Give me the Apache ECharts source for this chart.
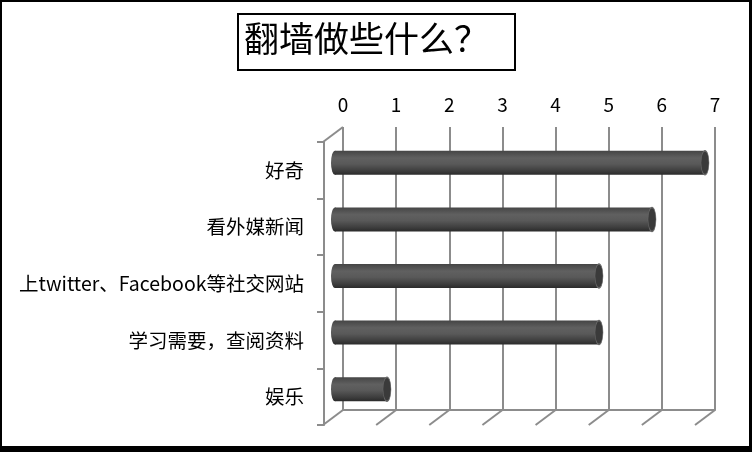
<!DOCTYPE html>
<html>
<head>
<meta charset="utf-8">
<script src="https://cdn.jsdelivr.net/npm/echarts@6/dist/echarts.min.js"></script>
<style>
html,body{margin:0;padding:0;background:#fff;}
#chart{width:752px;height:452px;}
</style>
</head>
<body>
<div id="chart"></div>
<script>
var titleText = '翻墙做些什么？';
var categories = ['好奇', '看外媒新闻', '上twitter、Facebook等社交网站', '学习需要，查阅资料', '娱乐'];
var values = [7, 6, 5, 5, 1];
var tickValues = [0, 1, 2, 3, 4, 5, 6, 7];

var FONT = '"Noto Sans CJK SC", "Noto Sans", sans-serif';
var GRID_COLOR = '#8c8c8c';
var DX = -20, DY = 15; // depth offset from back wall to front

var chart = echarts.init(document.getElementById('chart'), null, {renderer: 'canvas'});

var bodyGrad = new echarts.graphic.LinearGradient(0, 0, 0, 1, [
  {offset: 0, color: '#454545'},
  {offset: 0.3, color: '#606060'},
  {offset: 0.55, color: '#595959'},
  {offset: 0.85, color: '#3c3c3c'},
  {offset: 1, color: '#2a2a2a'}
]);

var option = {
  backgroundColor: '#ffffff',
  animation: false,
  grid: [
    {left: 343, right: 37, top: 127, bottom: 42},
    {left: 324, right: 57, top: 142, bottom: 27}
  ],
  xAxis: [
    {
      gridIndex: 0, type: 'value', position: 'top', min: 0, max: 7, interval: 1,
      axisLine: {show: true, lineStyle: {color: GRID_COLOR, width: 2}},
      axisTick: {show: true, length: 7, lineStyle: {color: GRID_COLOR, width: 2}},
      axisLabel: {fontSize: 19, color: '#000', fontFamily: FONT, margin: 13},
      splitLine: {show: true, lineStyle: {color: GRID_COLOR, width: 2}}
    },
    {gridIndex: 1, type: 'value', min: 0, max: 7, show: false}
  ],
  yAxis: [
    {gridIndex: 0, type: 'value', min: 0, max: 1, show: false},
    {
      gridIndex: 1, type: 'category', inverse: true, data: categories,
      axisLine: {show: true, lineStyle: {color: GRID_COLOR, width: 2}},
      axisTick: {show: true, length: 7, lineStyle: {color: GRID_COLOR, width: 2}},
      axisLabel: {fontSize: 19.5, color: '#000', fontFamily: FONT, margin: 20},
      splitLine: {show: false}
    }
  ],
  series: [
    {
      type: 'custom',
      xAxisIndex: 0, yAxisIndex: 0,
      data: tickValues.map(function (t) { return [t]; }),
      silent: true,
      renderItem: function (params, api) {
        var k = api.value(0);
        var b = api.coord([k, 0]);
        var children = [{
          type: 'line',
          shape: {x1: b[0], y1: b[1], x2: b[0] + DX, y2: b[1] + DY},
          style: {stroke: GRID_COLOR, lineWidth: 2}
        }];
        if (k === 0) {
          var t = api.coord([k, 1]);
          children.push({
            type: 'line',
            shape: {x1: t[0], y1: t[1], x2: t[0] + DX, y2: t[1] + DY},
            style: {stroke: GRID_COLOR, lineWidth: 2}
          });
        }
        return {type: 'group', children: children};
      }
    },
    {
      type: 'custom',
      xAxisIndex: 1, yAxisIndex: 1,
      data: values.map(function (v, i) { return [v, i]; }),
      renderItem: function (params, api) {
        var v = api.value(0), idx = api.value(1);
        var s = api.coord([0, idx]);
        var e = api.coord([v, idx]);
        var ox = -DX / 2, oy = -DY / 2;
        var x0 = s[0] + ox + 1, x1 = e[0] + ox, cy = s[1] + oy;
        var h = 24, ry = h / 2, rx = 4;
        return {
          type: 'group',
          children: [
            {
              type: 'circle', x: x0, y: cy, scaleX: rx / ry, scaleY: 1,
              shape: {cx: 0, cy: 0, r: ry},
              style: {fill: bodyGrad}
            },
            {
              type: 'rect',
              shape: {x: x0, y: cy - ry, width: x1 - x0, height: h},
              style: {fill: bodyGrad}
            },
            {
              type: 'circle', x: x1, y: cy, scaleX: rx / ry, scaleY: 1,
              shape: {cx: 0, cy: 0, r: ry},
              style: {fill: '#3a3a3a', stroke: '#6a6a6a', lineWidth: 1.5}
            }
          ]
        };
      }
    }
  ],
  graphic: [
    {type: 'rect', left: 0, top: 0, shape: {width: 752, height: 2}, style: {fill: '#000'}},
    {type: 'rect', left: 0, top: 0, shape: {width: 2, height: 452}, style: {fill: '#000'}},
    {type: 'rect', left: 749, top: 0, shape: {width: 3, height: 452}, style: {fill: '#000'}},
    {type: 'rect', left: 0, top: 446, shape: {width: 752, height: 6}, style: {fill: '#000'}},
    {type: 'rect', left: 237, top: 13, shape: {width: 277, height: 56}, style: {fill: '#fff', stroke: '#000', lineWidth: 2}},
    {type: 'text', left: 244, top: 21, style: {text: titleText, fontSize: 35, fontFamily: FONT, fill: '#000'}}
  ]
};
chart.setOption(option);
</script>
</body>
</html>
